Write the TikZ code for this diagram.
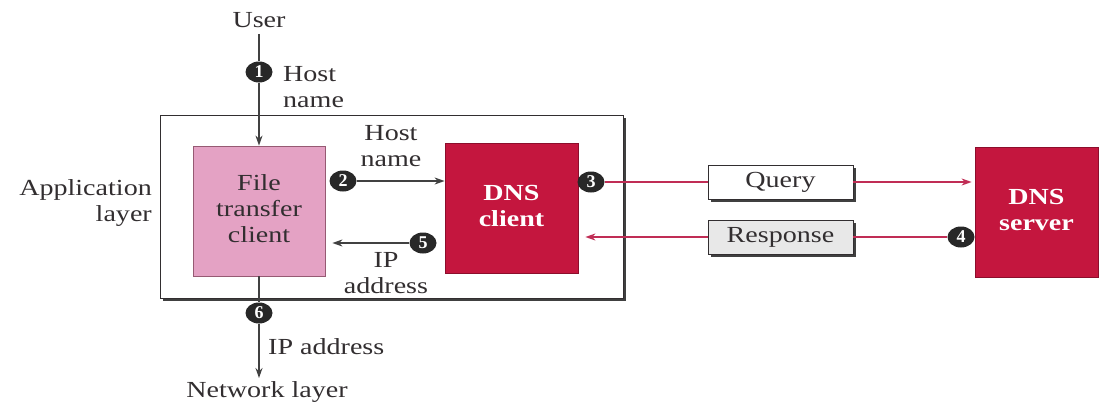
\documentclass[tikz,border=0pt]{standalone}
\usepackage{fontspec}
\setmainfont{Liberation Serif}
\usepackage{graphicx}
\usetikzlibrary{shapes.geometric,arrows.meta,shadows}

\definecolor{ink}{RGB}{50,46,48}
\definecolor{wire}{RGB}{65,65,65}
\definecolor{redwire}{RGB}{192,45,85}
\definecolor{pinkfill}{RGB}{228,162,196}
\definecolor{pinkedge}{RGB}{150,90,115}
\definecolor{dnsred}{RGB}{196,22,62}
\definecolor{dnsedge}{RGB}{140,14,44}
\definecolor{dotfill}{RGB}{40,40,40}
\definecolor{respfill}{RGB}{232,232,232}

% horizontally widened lettering
\newcommand{\sx}[1]{\scalebox{1.22}[1]{#1}}
\newcommand{\stackc}[1]{\sx{\begin{tabular}{@{}c@{}}#1\end{tabular}}}
\newcommand{\stackl}[1]{\sx{\begin{tabular}{@{}l@{}}#1\end{tabular}}}
\newcommand{\stackr}[1]{\sx{\begin{tabular}{@{}r@{}}#1\end{tabular}}}

\begin{document}
\begin{tikzpicture}[x=1pt,y=-1pt,
  font=\fontsize{23}{26}\selectfont,
  txt/.style={inner sep=0pt,text=ink},
  numdot/.style={ellipse,fill=dotfill,minimum width=27pt,minimum height=21pt,
    inner sep=0pt,text=white,font=\fontsize{18}{18}\selectfont\bfseries},
  lightbox/.style={draw=pinkedge,line width=0.8pt,fill=pinkfill,
    minimum width=132pt,minimum height=130pt,inner sep=0pt,text=ink},
  darkbox/.style={draw=dnsedge,line width=0.8pt,fill=dnsred,
    minimum height=130pt,inner sep=0pt,text=white,font=\fontsize{23}{26}\selectfont\bfseries},
  msgbox/.style={draw=ink,line width=0.9pt,minimum width=145pt,minimum height=34pt,
    inner sep=0pt,text=ink,
    drop shadow={shadow xshift=3pt,shadow yshift=-3pt,fill=black!75,opacity=1}},
  wirearrow/.style={draw=wire,line width=1.5pt,-{Stealth[length=10pt,width=7pt]}},
  wireplain/.style={draw=wire,line width=1.5pt},
  redarrow/.style={draw=redwire,line width=1.5pt,-{Stealth[length=10pt,width=7pt]}},
  redplain/.style={draw=redwire,line width=1.5pt}]

\useasboundingbox (0,0) rectangle (1100,410);

% application-layer frame
\node[draw=ink,line width=1pt,fill=white,minimum width=463pt,minimum height=183pt,
  inner sep=0pt,drop shadow={shadow xshift=3pt,shadow yshift=-3pt,fill=black!75,opacity=1}]
  (frame) at (391.5,206.5) {};
\node[txt,anchor=east] (applbl) at (152,203) {\stackr{Application\\layer}};

% main boxes
\node[lightbox] (ftc) at (259,211) {\stackc{File\\transfer\\client}};
\node[darkbox,minimum width=133pt] (dnsc) at (511.5,208) {\stackc{DNS\\client}};
\node[darkbox,minimum width=123pt] (dnss) at (1036.5,212) {\stackc{DNS\\server}};

% message boxes
\node[msgbox,fill=white] (query) at (780.5,182) {\sx{Query}};
\node[msgbox,fill=respfill] (resp) at (780.5,237) {\sx{Response}};

% end points and labels outside the frame
\node[txt] (user) at (259,20) {\sx{User}};
\node[txt] (netlbl) at (267,392) {\sx{Network layer}};
\coordinate (net) at (259,378);

% numbered steps
\node[numdot] (c1) at (259,72) {1};
\node[numdot] (c2) at (343,181) {2};
\node[numdot] (c3) at (591,182) {3};
\node[numdot] (c4) at (961,237) {4};
\node[numdot] (c5) at (423,243) {5};
\node[numdot] (c6) at (259,313) {6};

% step labels
\node[txt,anchor=west] (l1) at (283,89) {\stackl{Host\\name}};
\node[txt] (l2) at (391,148) {\stackc{Host\\name}};
\node[txt] (l5) at (386,275) {\stackc{IP\\address}};
\node[txt,anchor=west] (l6) at (268,347) {\sx{IP address}};

% user to file transfer client
\draw[wireplain] (user.south) ++(0,6) -- (c1.north);
\draw[wirearrow] (c1.south) -- (ftc.north);

% local exchange
\draw[wirearrow] (c2.east) -- (dnsc.west |- c2);
\draw[wirearrow,shorten >=7pt] (c5.west) -- (ftc.east |- c5);

% query and response
\draw[redplain] (c3.east) -- (query.west |- c3);
\draw[redarrow,shorten >=3pt] (query.east) -- (dnss.west |- query);
\draw[redplain] (c4.west) -- (resp.east |- c4);
\draw[redarrow,shorten >=7pt] (resp.west |- c4) -- (dnsc.east |- c4);

% down to the network layer
\draw[wireplain] (ftc.south) -- (c6.north);
\draw[wirearrow] (c6.south) -- (net);

\end{tikzpicture}
\end{document}
